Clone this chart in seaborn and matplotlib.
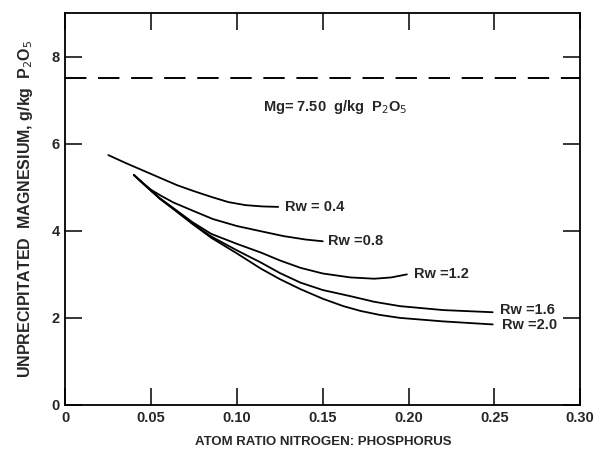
import seaborn as sns
import matplotlib.pyplot as plt
import pandas as pd

# curves, one per Rw value
x04 = [0.025, 0.035, 0.045, 0.055, 0.065, 0.075, 0.085, 0.095, 0.105, 0.115, 0.124]
y04 = [5.74, 5.56, 5.39, 5.22, 5.05, 4.91, 4.78, 4.66, 4.59, 4.56, 4.55]

x08 = [0.040, 0.045, 0.050, 0.056, 0.063, 0.075, 0.086, 0.100, 0.114, 0.127, 0.140, 0.150]
y08 = [5.28, 5.10, 4.94, 4.80, 4.65, 4.45, 4.27, 4.11, 3.99, 3.88, 3.80, 3.76]

x12 = [0.040, 0.045, 0.050, 0.055, 0.063, 0.074, 0.085, 0.100, 0.114, 0.125, 0.137, 0.150, 0.166, 0.180, 0.190, 0.199]
y12 = [5.28, 5.10, 4.92, 4.75, 4.52, 4.20, 3.93, 3.70, 3.50, 3.32, 3.15, 3.02, 2.93, 2.90, 2.93, 3.00]

x16 = [0.040, 0.045, 0.050, 0.055, 0.063, 0.074, 0.085, 0.100, 0.114, 0.125, 0.137, 0.150, 0.166, 0.180, 0.195, 0.220, 0.249]
y16 = [5.28, 5.10, 4.92, 4.74, 4.50, 4.17, 3.87, 3.55, 3.27, 3.03, 2.81, 2.64, 2.50, 2.37, 2.27, 2.18, 2.13]

x20 = [0.040, 0.045, 0.050, 0.055, 0.063, 0.074, 0.085, 0.100, 0.114, 0.125, 0.137, 0.150, 0.162, 0.172, 0.183, 0.195, 0.220, 0.249]
y20 = [5.28, 5.10, 4.92, 4.74, 4.50, 4.16, 3.84, 3.48, 3.13, 2.89, 2.66, 2.44, 2.27, 2.16, 2.07, 2.00, 1.92, 1.85]

curve_labels = ['Rw = 0.4', 'Rw =0.8', 'Rw =1.2', 'Rw =1.6', 'Rw =2.0']
mg_level = 7.5
x_ticks = [0, 0.05, 0.10, 0.15, 0.20, 0.25, 0.30]
x_ticklabels = ['0', '0.05', '0.10', '0.15', '0.20', '0.25', '0.30']
y_ticks = [0, 2, 4, 6, 8]

sns.set_style('ticks')
plt.rcParams['font.family'] = ['Liberation Sans', 'DejaVu Sans']

fig = plt.figure(figsize=(6, 4.54), dpi=100)
ax = fig.add_axes([0.109, 0.108, 0.858, 0.863])

curves = [(x04, y04), (x08, y08), (x12, y12), (x16, y16), (x20, y20)]
label_pos = [(0.128, 4.55), (0.153, 3.76), (0.203, 3.0), (0.2535, 2.19), (0.2545, 1.84)]
for (xs, ys), lab, (lx, ly) in zip(curves, curve_labels, label_pos):
    df = pd.DataFrame({'x': xs, 'y': ys})
    sns.lineplot(data=df, x='x', y='y', sort=False, color='black', lw=1.3, ax=ax)
    ax.text(lx, ly, lab, fontsize=10.5, fontweight='bold', va='center', ha='left')

ax.axhline(mg_level, color='black', lw=1.4, dashes=(11, 6))
ax.text(0.115, 6.84, 'Mg= 7.50  g/kg  P$_2$O$_5$', fontsize=10.5, fontweight='bold',
        va='center', ha='left')

ax.set_xlim(0, 0.30)
ax.set_ylim(0, 9)
ax.set_xticks(x_ticks)
ax.set_xticklabels(x_ticklabels)
ax.set_yticks(y_ticks)
ax.tick_params(direction='in', length=12, width=1.3, labelsize=10.5, top=True, right=True,
               pad=4)
for t in ax.get_xticklabels() + ax.get_yticklabels():
    t.set_fontweight('bold')
for sp in ax.spines.values():
    sp.set_linewidth(1.3)
    sp.set_color('black')

ax.set_xlabel('ATOM RATIO NITROGEN: PHOSPHORUS', fontsize=9.5, fontweight='bold', labelpad=8)
ax.set_ylabel('UNPRECIPITATED  MAGNESIUM, g/kg  P$_2$O$_5$', fontsize=11.5, fontweight='bold',
              labelpad=12)

fig.savefig('out.png', dpi=100)
